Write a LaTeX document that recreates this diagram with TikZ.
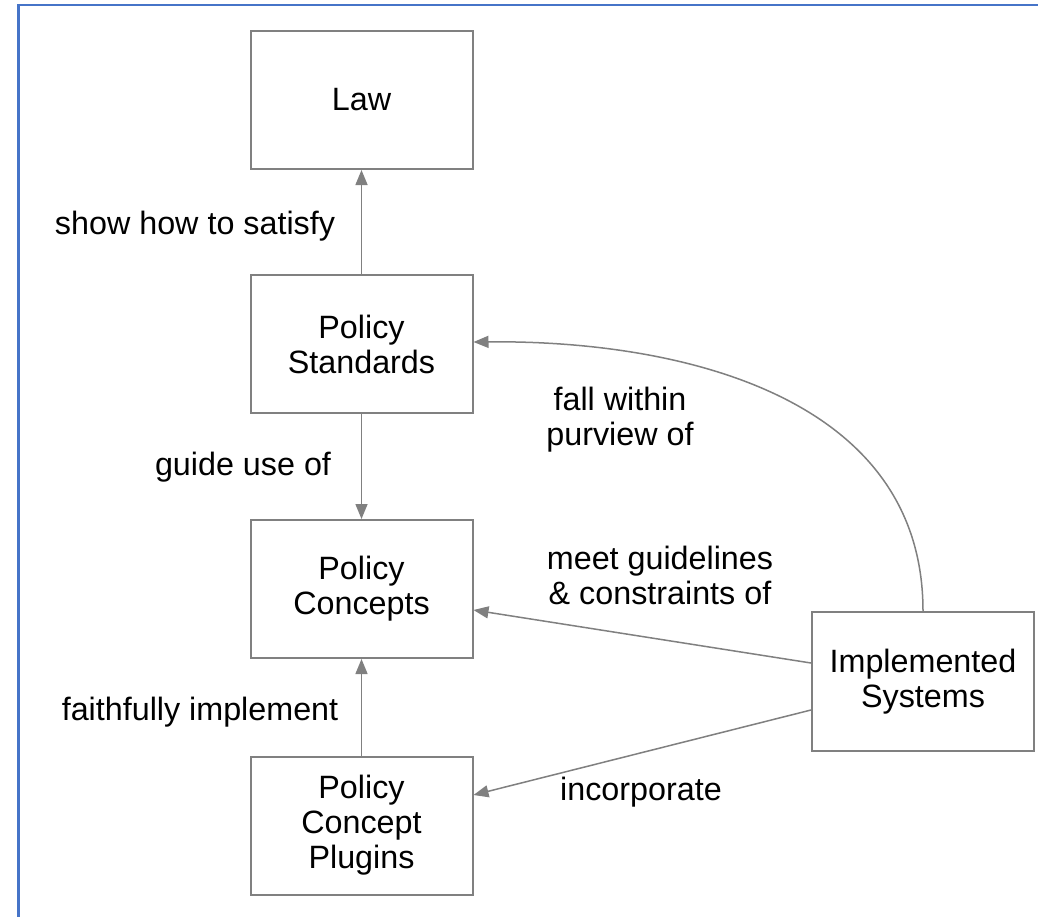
\documentclass[tikz,border=0pt]{standalone}
\usepackage{fontspec}
\setmainfont{Liberation Sans}
\usetikzlibrary{arrows.meta}
\definecolor{frameblue}{RGB}{70,116,200}
\definecolor{linegray}{RGB}{128,128,128}
\tikzset{
  box/.style={draw=linegray, line width=2pt, minimum width=222pt, minimum height=138pt, inner sep=0pt, align=center, font=\fontsize{32.3}{35}\selectfont},
  lbl/.style={inner sep=0pt, align=center, font=\fontsize{32.3}{35}\selectfont},
  conn/.style={draw=linegray, line width=1.5pt, -{Triangle[length=15pt,width=12pt]}}
}
\begin{document}
\begin{tikzpicture}[x=1pt,y=-1pt]
\useasboundingbox (0,0) rectangle (1038,916);
\fill[white] (0,0) rectangle (1038,916);
\draw[frameblue, line width=2.5pt] (1045,5) -- (18.5,5) -- (18.5,925);
\node[box] (law) at (361.5,100) {Law};
\node[box] (std) at (361.5,344) {Policy\\Standards};
\node[box] (con) at (361.5,589) {Policy\\Concepts};
\node[box] (plug) at (361.5,825.5) {Policy\\Concept\\Plugins};
\node[box, minimum height=139pt] (impl) at (923,681.5) {Implemented\\Systems};
\draw[conn] (std.north) -- (law.south);
\draw[conn] (std.south) -- (con.north);
\draw[conn] (plug.north) -- (con.south);
\draw[conn] ([yshift=18.5pt]impl.west) -- ([yshift=-21pt]con.east);
\draw[conn] ([yshift=-28.5pt]impl.west) -- ([yshift=30.5pt]plug.east);
\draw[conn] (impl.north) .. controls +(0,-215) and +(206,-2) .. ([yshift=2pt]std.east);
\node[lbl] (l1) at (195,226) {show how to satisfy};
\node[lbl] (l2) at (243,467) {guide use of};
\node[lbl] (l3) at (200,712) {faithfully implement};
\node[lbl] (l4) at (620,420) {fall within\\purview of};
\node[lbl] (l5) at (660,575) {meet guidelines\\\&~constraints of};
\node[lbl] (l6) at (641,792) {incorporate};
\end{tikzpicture}
\end{document}
